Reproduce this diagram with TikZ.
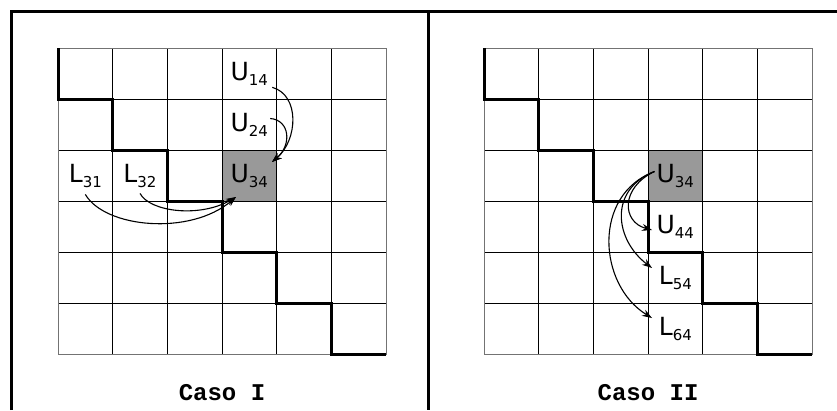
\documentclass[tikz,border=0pt]{standalone}
\usepackage{fontspec}
\setmainfont{DejaVu Sans}
\newfontfamily\casofont{Liberation Mono}
\usetikzlibrary{arrows.meta}
\newcommand{\lab}[2]{{\fontsize{25}{25}\selectfont #1}\raisebox{-5pt}{\fontsize{15}{15}\selectfont #2}}
\tikzset{
  frameline/.style={line width=3pt},
  gridline/.style={line width=0.9pt, black},
  gridborder/.style={line width=1pt, black!55},
  stair/.style={line width=3pt, line join=miter},
  hicell/.style={fill=black!40},
  lbl/.style={inner sep=0pt, anchor=center},
  casolbl/.style={inner sep=0pt, font=\casofont\bfseries\fontsize{24}{24}\selectfont},
  arr/.style={line width=1.1pt, -{Stealth[length=10pt,width=7pt]}},
}
\newcommand{\panelgrid}{%
  \foreach \k in {1,...,5} {
    \draw[gridline] (\k,0) -- (\k,6);
    \draw[gridline] (0,\k) -- (6,\k);
  }
  \draw[gridborder] (0,0) rectangle (6,6);
  \draw[stair] (0,0)--(0,1)--(1,1)--(1,2)--(2,2)--(2,3)--(3,3)--(3,4)--(4,4)--(4,5)--(5,5)--(5,6)--(6,6);
}
\begin{document}
\begin{tikzpicture}[x=1pt,y=-1pt]
\useasboundingbox (0,0) rectangle (837,410);
\fill[white] (0,0) rectangle (837,410);
% frame
\draw[frameline] (11,410) -- (11,11) -- (837,11);
\draw[frameline] (428,11) -- (428,410);

% left panel
\begin{scope}[shift={(58,48)}, x=54.667pt, y=-51pt]
  \fill[hicell] (3,2) rectangle (4,3);
  \panelgrid
  \node[lbl] (u14) at (3.5,0.5) {\lab{U}{14}};
  \node[lbl] (u24) at (3.5,1.5) {\lab{U}{24}};
  \node[lbl] (u34a) at (3.5,2.5) {\lab{U}{34}};
  \node[lbl] (l31) at (0.5,2.5) {\lab{L}{31}};
  \node[lbl] (l32) at (1.5,2.5) {\lab{L}{32}};
  \node[casolbl] (caso1) at (3,6.75) {Caso I};
\end{scope}

% right panel
\begin{scope}[shift={(484,48)}, x=54.667pt, y=-51pt]
  \fill[hicell] (3,2) rectangle (4,3);
  \panelgrid
  \node[lbl] (u34b) at (3.5,2.5) {\lab{U}{34}};
  \node[lbl] (u44) at (3.5,3.5) {\lab{U}{44}};
  \node[lbl] (l54) at (3.5,4.5) {\lab{L}{54}};
  \node[lbl] (l64) at (3.5,5.5) {\lab{L}{64}};
  \node[casolbl] (caso2) at (3,6.75) {Caso II};
\end{scope}

% arrow endpoints
\coordinate (ta) at (272,162);
\coordinate (tb) at (236,197);
\coordinate (tu44) at (652,230);
\coordinate (tl54) at (652,268);
\coordinate (tl64) at (652,318);

% left arrows
\draw[arr] ([shift={(4,2)}]u14.south east) .. controls (300,95) and (298,140) .. (ta);
\draw[arr] ([shift={(2,-6)}]u24.east) .. controls (290,120) and (292,145) .. (ta);
\draw[arr] ([shift={(0,7)}]l31.south) .. controls (105,228) and (190,236) .. (tb);
\draw[arr] ([shift={(0,6)}]l32.south) .. controls (150,212) and (200,218) .. (tb);

% right arrows
\draw[arr] ([shift={(-2,-4)}]u34b.west) .. controls (620,188) and (622,222) .. (tu44);
\draw[arr] ([shift={(-2,-4)}]u34b.west) .. controls (608,190) and (615,240) .. (tl54);
\draw[arr] ([shift={(-2,-4)}]u34b.west) .. controls (592,195) and (598,285) .. (tl64);
\end{tikzpicture}
\end{document}
